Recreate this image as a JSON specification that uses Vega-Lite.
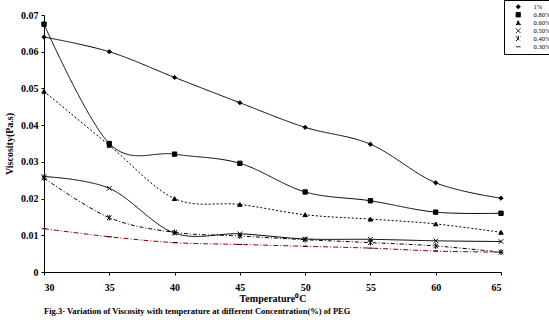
{
  "$schema": "https://vega.github.io/schema/vega-lite/v6.json",
  "width": 457,
  "height": 257,
  "autosize": "none",
  "padding": {"left": 44, "top": 15, "right": 48, "bottom": 50},
  "background": "white",
  "config": {
    "view": {"stroke": null},
    "font": "Liberation Serif",
    "axis": {"labelFont": "Liberation Serif", "titleFont": "Liberation Serif", "labelFontWeight": "bold", "titleFontWeight": "bold", "labelColor": "black", "titleColor": "black", "domainColor": "black", "tickColor": "black", "labelFontSize": 10, "titleFontSize": 10, "grid": false, "tickSize": 3}
  },
  "title": {"text": "Fig.3- Variation of Viscosity with temperature at different Concentration(%) of PEG", "orient": "bottom", "anchor": "start", "frame": "group", "font": "Liberation Serif", "fontSize": 8.5, "fontWeight": "bold", "color": "black", "offset": 4},
  "data": {"values": [
    {"t": 30, "v": 0.064, "s": "1%"}, {"t": 35, "v": 0.060, "s": "1%"}, {"t": 40, "v": 0.053, "s": "1%"}, {"t": 45, "v": 0.0461, "s": "1%"}, {"t": 50, "v": 0.0394, "s": "1%"}, {"t": 55, "v": 0.0348, "s": "1%"}, {"t": 60, "v": 0.0243, "s": "1%"}, {"t": 65, "v": 0.0201, "s": "1%"},
    {"t": 30, "v": 0.0675, "s": "0.80%"}, {"t": 35, "v": 0.035, "s": "0.80%"}, {"t": 40, "v": 0.0321, "s": "0.80%"}, {"t": 45, "v": 0.0296, "s": "0.80%"}, {"t": 50, "v": 0.0218, "s": "0.80%"}, {"t": 55, "v": 0.0194, "s": "0.80%"}, {"t": 60, "v": 0.0163, "s": "0.80%"}, {"t": 65, "v": 0.016, "s": "0.80%"},
    {"t": 30, "v": 0.0492, "s": "0.60%"}, {"t": 35, "v": 0.0345, "s": "0.60%"}, {"t": 40, "v": 0.020, "s": "0.60%"}, {"t": 45, "v": 0.0184, "s": "0.60%"}, {"t": 50, "v": 0.0156, "s": "0.60%"}, {"t": 55, "v": 0.0144, "s": "0.60%"}, {"t": 60, "v": 0.0131, "s": "0.60%"}, {"t": 65, "v": 0.0108, "s": "0.60%"},
    {"t": 30, "v": 0.026, "s": "0.50%"}, {"t": 35, "v": 0.0228, "s": "0.50%"}, {"t": 40, "v": 0.0106, "s": "0.50%"}, {"t": 45, "v": 0.0104, "s": "0.50%"}, {"t": 50, "v": 0.009, "s": "0.50%"}, {"t": 55, "v": 0.0089, "s": "0.50%"}, {"t": 60, "v": 0.0085, "s": "0.50%"}, {"t": 65, "v": 0.0083, "s": "0.50%"},
    {"t": 30, "v": 0.0256, "s": "0.40%"}, {"t": 35, "v": 0.0148, "s": "0.40%"}, {"t": 40, "v": 0.0108, "s": "0.40%"}, {"t": 45, "v": 0.0098, "s": "0.40%"}, {"t": 50, "v": 0.0088, "s": "0.40%"}, {"t": 55, "v": 0.008, "s": "0.40%"}, {"t": 60, "v": 0.0071, "s": "0.40%"}, {"t": 65, "v": 0.0054, "s": "0.40%"},
    {"t": 30, "v": 0.0118, "s": "0.30%"}, {"t": 35, "v": 0.0096, "s": "0.30%"}, {"t": 40, "v": 0.008, "s": "0.30%"}, {"t": 45, "v": 0.0075, "s": "0.30%"}, {"t": 50, "v": 0.007, "s": "0.30%"}, {"t": 55, "v": 0.0065, "s": "0.30%"}, {"t": 60, "v": 0.0057, "s": "0.30%"}, {"t": 65, "v": 0.0054, "s": "0.30%"}
  ]},
  "encoding": {
    "x": {"field": "t", "type": "quantitative", "scale": {"domain": [30, 65], "nice": false, "zero": false}, "axis": {"values": [30, 35, 40, 45, 50, 55, 60, 65], "title": "Temperature⁰C", "titlePadding": 1, "labelPadding": 7}},
    "y": {"field": "v", "type": "quantitative", "scale": {"domain": [0, 0.07], "nice": false}, "axis": {"values": [0, 0.01, 0.02, 0.03, 0.04, 0.05, 0.06, 0.07], "labelExpr": "datum.value == 0 ? '0' : format(datum.value, '.2f')", "title": "Viscosity(Pa.s)", "titlePadding": 6, "labelPadding": 3}}
  },
  "layer": [
    {
      "mark": {"type": "line", "interpolate": "cardinal", "strokeWidth": 1},
      "encoding": {
        "color": {"field": "s", "type": "nominal", "scale": {"domain": ["1%", "0.80%", "0.60%", "0.50%", "0.40%", "0.30%"], "range": ["black", "black", "black", "black", "black", "#8b0000"]},
          "legend": {"title": null, "orient": "none", "legendX": 460, "legendY": -15, "strokeColor": "black", "fillColor": "white", "padding": 3, "labelFont": "Liberation Serif", "labelFontSize": 6.5, "labelColor": "black", "symbolFillColor": "black", "symbolSize": 16, "symbolStrokeWidth": 1, "rowPadding": 0, "clipHeight": 7.5, "labelOffset": 12, "symbolOffset": 8}},
        "strokeDash": {"field": "s", "type": "nominal", "scale": {"domain": ["1%", "0.80%", "0.60%", "0.50%", "0.40%", "0.30%"], "range": [[1, 0], [1, 0], [2, 2], [1, 0], [4, 2, 1, 2], [5, 2, 1, 2]]}, "legend": null}
      }
    },
    {
      "mark": {"type": "point", "filled": true, "fill": "black", "stroke": "black", "strokeWidth": 1, "opacity": 1},
      "encoding": {
        "shape": {"field": "s", "type": "nominal", "scale": {"domain": ["1%", "0.80%", "0.60%", "0.50%", "0.40%", "0.30%"], "range": ["diamond", "square", "triangle-up", "M-1,-1L1,1M-1,1L1,-1", "M-1,-1L1,1M-1,1L1,-1M0,-1.3L0,1.3", "M-1,0L1,0"]}, "legend": null},
        "size": {"field": "s", "type": "nominal", "scale": {"domain": ["1%", "0.80%", "0.60%", "0.50%", "0.40%", "0.30%"], "range": [18, 22, 22, 16, 18, 18]}, "legend": null}
      }
    }
  ]
}
